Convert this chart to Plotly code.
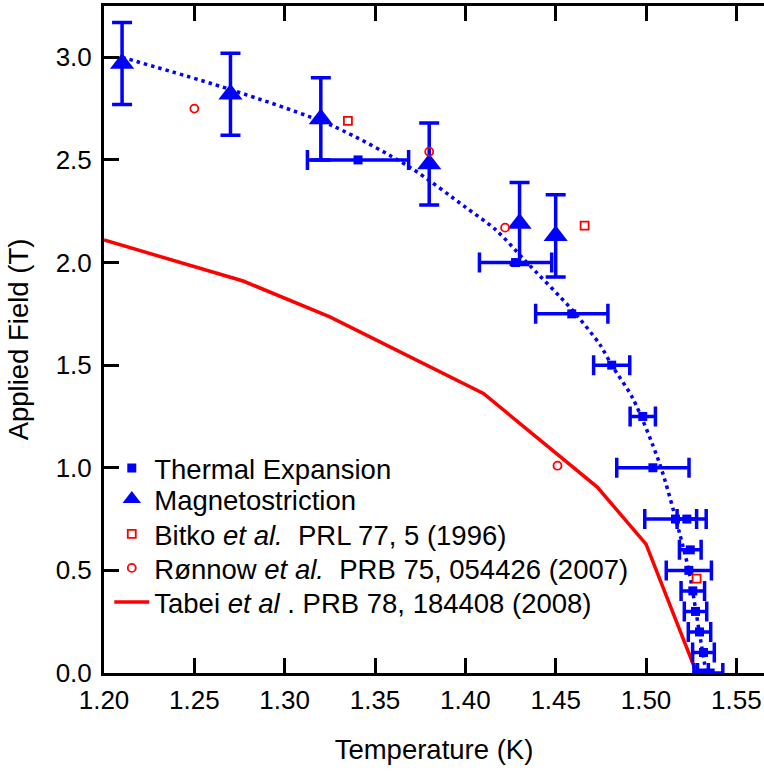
import plotly.graph_objects as go

# ---- data ----
# Thermal expansion: temperature (K), field (T), temperature error (K)
te_T = [1.3406, 1.4278, 1.4589, 1.4810, 1.4982, 1.5038, 1.5163, 1.5226,
        1.5245, 1.5237, 1.5259, 1.5274, 1.5296, 1.5318, 1.5305, 1.5355]
te_H = [2.50, 2.00, 1.75, 1.50, 1.25, 1.00, 0.75, 0.75,
        0.60, 0.50, 0.40, 0.30, 0.20, 0.10, 0.00, 0.00]
te_dT = [0.028, 0.020, 0.020, 0.010, 0.007, 0.020, 0.017, 0.0054,
         0.006, 0.0125, 0.0065, 0.0062, 0.0062, 0.006, 0.004, 0.007]

# Magnetostriction: temperature (K), field (T), field error (T)
ms_T = [1.210, 1.270, 1.320, 1.380, 1.430, 1.450]
ms_H = [2.97, 2.82, 2.70, 2.48, 2.19, 2.13]
ms_dH = [0.20, 0.20, 0.20, 0.20, 0.20, 0.20]

# Bitko et al. PRL 77, 5 (1996)
bitko_T = [1.335, 1.466, 1.528]
bitko_H = [2.69, 2.18, 0.46]

# Ronnow et al. PRB 75, 054426 (2007)
ronnow_T = [1.250, 1.380, 1.422, 1.451]
ronnow_H = [2.75, 2.54, 2.17, 1.01]

# Tabei et al. PRB 78, 184408 (2008)
tabei_T = [1.200, 1.277, 1.325, 1.410, 1.473, 1.500, 1.528]
tabei_H = [2.11, 1.91, 1.735, 1.362, 0.906, 0.628, 0.0]

# Dotted guide curve
fit_T = [1.210, 1.271, 1.327, 1.369, 1.400, 1.417, 1.433, 1.459, 1.4745,
         1.481, 1.4927, 1.5075, 1.5186, 1.524, 1.5296, 1.5333]
fit_H = [3.00, 2.84, 2.664, 2.466, 2.27, 2.158, 2.01, 1.77, 1.60,
         1.50, 1.338, 1.021, 0.68, 0.486, 0.193, 0.0]

x_ticks = [1.20, 1.25, 1.30, 1.35, 1.40, 1.45, 1.50, 1.55]
y_ticks = [0.0, 0.5, 1.0, 1.5, 2.0, 2.5, 3.0]

BLUE = "#0000FF"
RED = "#FF0000"
FONT = "Liberation Sans, Arial, sans-serif"
NB = "\u00a0"
LEG_FS = 27.5

fig = go.Figure()

fig.add_trace(go.Scatter(
    x=fit_T, y=fit_H, mode="lines", showlegend=False,
    line=dict(color=BLUE, width=3.5, dash="3.5px,4px", shape="spline", smoothing=0.8),
    hoverinfo="skip"))

fig.add_trace(go.Scatter(
    x=tabei_T, y=tabei_H, mode="lines", legend="legend5",
    name="Tabei <i>et al</i> . PRB 78, 184408 (2008)",
    line=dict(color=RED, width=3.5)))

fig.add_trace(go.Scatter(
    x=te_T, y=te_H, mode="markers", legend="legend",
    name="Thermal Expansion",
    marker=dict(symbol="square", size=9, color=BLUE),
    error_x=dict(type="data", array=te_dT, color=BLUE, thickness=3.5, width=10)))

fig.add_trace(go.Scatter(
    x=ms_T, y=ms_H, mode="markers", legend="legend2",
    name="Magnetostriction",
    marker=dict(symbol="triangle-up", size=21, color=BLUE),
    error_y=dict(type="data", array=ms_dH, color=BLUE, thickness=3.5, width=10)))

fig.add_trace(go.Scatter(
    x=bitko_T, y=bitko_H, mode="markers", legend="legend3",
    name="Bitko <i>et al.</i>" + NB + NB + "PRL 77, 5 (1996)",
    marker=dict(symbol="square-open", size=8, color=RED, line=dict(width=1.8))))

fig.add_trace(go.Scatter(
    x=ronnow_T, y=ronnow_H, mode="markers", legend="legend4",
    name="Rønnow <i>et al.</i>" + NB + NB + "PRB 75, 054426 (2007)",
    marker=dict(symbol="circle-open", size=8, color=RED, line=dict(width=1.8))))

axis_common = dict(
    showline=True, linecolor="black", linewidth=3,
    ticks="inside", ticklen=15, tickwidth=3, tickcolor="black",
    showgrid=False, zeroline=False,
    tickfont=dict(family=FONT, size=26, color="black"),
)

PLOT_BOTTOM = 673.0
PLOT_H = 667.0
legend_rows_px = [468, 499, 534, 568, 602]


def leg(ypx):
    return dict(
        x=0.008, y=(PLOT_BOTTOM - ypx) / PLOT_H, xanchor="left", yanchor="middle",
        bgcolor="rgba(0,0,0,0)", borderwidth=0,
        font=dict(family=FONT, size=LEG_FS, color="black"),
        itemwidth=35,
    )


fig.update_layout(
    width=764, height=775,
    margin=dict(l=104, r=0, t=6, b=102),
    paper_bgcolor="white", plot_bgcolor="white",
    font=dict(family=FONT, size=26, color="black"),
    xaxis=dict(
        range=[1.20, 1.5653], tickvals=x_ticks,
        ticktext=[f"{v:.2f}" for v in x_ticks],
        mirror="ticks", ticklabelstandoff=2,
        title=dict(text="Temperature (K)", font=dict(family=FONT, size=27.5), standoff=26),
        **axis_common),
    yaxis=dict(
        range=[0, 3.25], tickvals=y_ticks,
        ticktext=[f"{v:.1f}" for v in y_ticks],
        ticklabelstandoff=4,
        title=dict(text="Applied Field (T)", font=dict(family=FONT, size=27.5), standoff=20),
        **axis_common),
    legend=leg(legend_rows_px[0]),
    legend2=leg(legend_rows_px[1]),
    legend3=leg(legend_rows_px[2]),
    legend4=leg(legend_rows_px[3]),
    legend5=leg(legend_rows_px[4]),
)

fig.write_html("out.html")
